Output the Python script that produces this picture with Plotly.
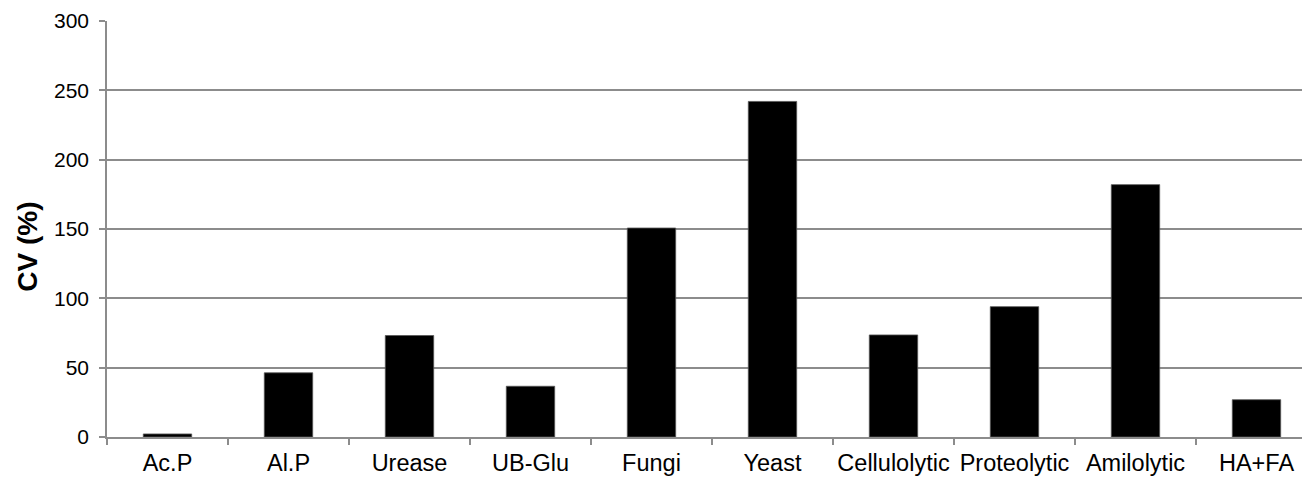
import plotly.graph_objects as go

categories = ["Ac.P", "Al.P", "Urease", "UB-Glu", "Fungi", "Yeast",
              "Cellulolytic", "Proteolytic", "Amilolytic", "HA+FA"]
cv_values = [2.2, 46.3, 73.2, 36.6, 150.7, 242.0, 73.6, 94.0, 182.0, 26.9]
y_ticks = [0, 50, 100, 150, 200, 250, 300]

# page body has an 8px margin; compensate so the figure sits where the reference does
OFF = 8
W, H = 1310 - OFF, 479 - OFF
left, right_px, top, bottom = 107 - OFF, 1310 - OFF, 21 - OFF, 437 - OFF
cat_px = 121.0
x_hi = -0.5 + (right_px - left) / cat_px

FONT = "Liberation Sans, Arial, sans-serif"
GRID = "#8c8c8c"

fig = go.Figure()
fig.add_trace(go.Bar(
    x=categories, y=cv_values, width=0.4,
    marker=dict(color="#000000", line=dict(color="#555555", width=0.8)),
))

fig.update_layout(
    width=W, height=H,
    margin=dict(l=left, r=W - right_px, t=top, b=H - bottom, pad=0, autoexpand=False),
    paper_bgcolor="white", plot_bgcolor="white",
    showlegend=False,
    font=dict(family=FONT, size=20, color="#000000"),
)
fig.update_xaxes(
    type="category", range=[-0.5, x_hi], automargin=False,
    showline=True, linecolor=GRID, linewidth=1.5,
    ticks="outside", tickson="boundaries", ticklen=6, tickcolor=GRID, tickwidth=1.5,
    ticklabelstandoff=4, tickangle=0,
    showgrid=False, tickfont=dict(family=FONT, size=23.5, color="#000000"),
)
fig.update_yaxes(
    range=[0, 300], tickvals=y_ticks, automargin=False,
    showline=True, linecolor=GRID, linewidth=1.5,
    showgrid=True, gridcolor=GRID, gridwidth=1.5,
    ticks="outside", ticklen=6, tickcolor=GRID, tickwidth=1.5,
    ticklabelstandoff=6,
    tickfont=dict(family=FONT, size=21, color="#000000"),
    zeroline=False,
)
fig.add_annotation(
    text="<b>CV (%)</b>", textangle=-90,
    xref="paper", yref="paper", x=0, y=(bottom - (246.7 - OFF)) / (bottom - top),
    xshift=-(107 - 28), xanchor="center", yanchor="middle",
    showarrow=False, font=dict(family=FONT, size=28, color="#000000"),
)

fig.write_html("out.html")
